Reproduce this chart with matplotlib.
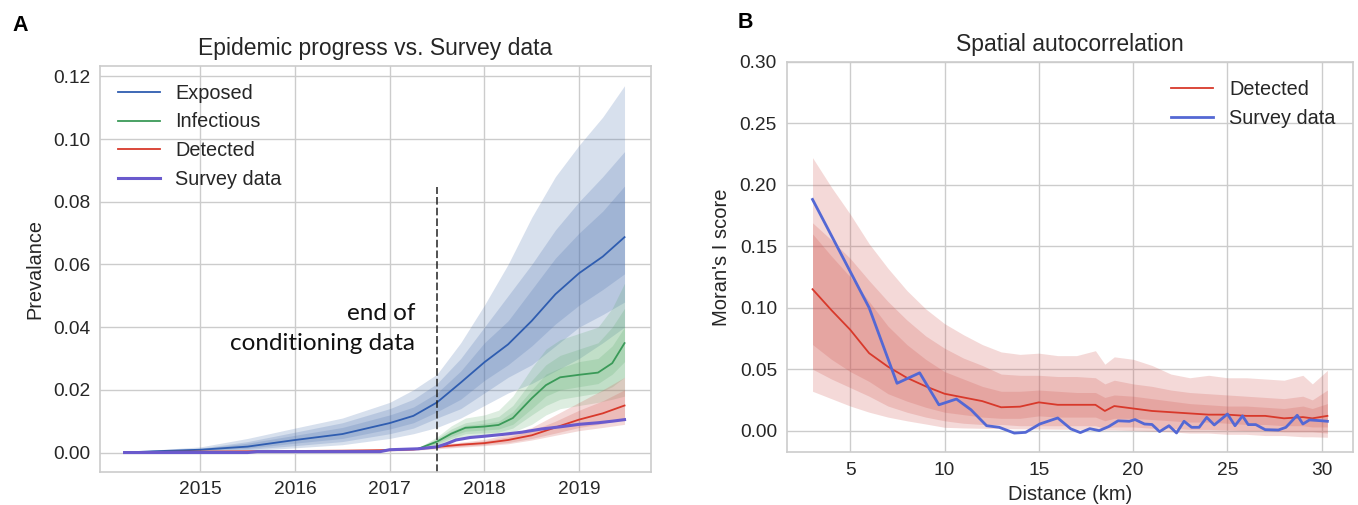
import numpy as np
import matplotlib.pyplot as plt

plt.rcParams["font.family"] = ["Liberation Sans", "DejaVu Sans"]

# ---- Panel A data (year, prevalence) ----
t = [2014.2, 2014.5, 2015.0, 2015.5, 2016.0, 2016.5, 2017.0, 2017.25, 2017.5,
     2017.75, 2018.0, 2018.25, 2018.5, 2018.75, 2019.0, 2019.25, 2019.48]
exp_med = [0, 0.0004, 0.0009, 0.0019, 0.0040, 0.0059, 0.0094, 0.0117, 0.0160,
           0.0223, 0.0288, 0.0345, 0.0420, 0.0505, 0.0572, 0.0625, 0.0687]
exp_hi3 = [0, 0.0008, 0.0018, 0.0045, 0.0078, 0.0110, 0.0160, 0.0200, 0.0250,
           0.0350, 0.0470, 0.0600, 0.0750, 0.0880, 0.0980, 0.1070, 0.1170]
exp_hi2 = [0, 0.0006, 0.0014, 0.0035, 0.0065, 0.0095, 0.0140, 0.0170, 0.0220,
           0.0300, 0.0400, 0.0500, 0.0600, 0.0710, 0.0800, 0.0880, 0.0960]
exp_hi1 = [0, 0.0005, 0.0012, 0.0030, 0.0055, 0.0080, 0.0120, 0.0145, 0.0190,
           0.0260, 0.0350, 0.0420, 0.0520, 0.0620, 0.0700, 0.0770, 0.0850]
exp_lo1 = [0, 0.0003, 0.0007, 0.0014, 0.0030, 0.0045, 0.0075, 0.0095, 0.0130,
           0.0170, 0.0230, 0.0280, 0.0340, 0.0410, 0.0470, 0.0520, 0.0570]
exp_lo2 = [0, 0.0002, 0.0005, 0.0010, 0.0022, 0.0035, 0.0060, 0.0078, 0.0110,
           0.0140, 0.0190, 0.0240, 0.0280, 0.0340, 0.0400, 0.0440, 0.0480]
exp_lo3 = [0, 0.0001, 0.0003, 0.0006, 0.0015, 0.0025, 0.0045, 0.0060, 0.0080,
           0.0110, 0.0150, 0.0190, 0.0220, 0.0260, 0.0300, 0.0350, 0.0400]

det_med = [0, 0.0002, 0.0003, 0.0004, 0.0005, 0.0006, 0.0008, 0.0010, 0.0018,
           0.0025, 0.0030, 0.0040, 0.0055, 0.0080, 0.0105, 0.0125, 0.0150]
det_hi3 = [0, 0.0003, 0.0004, 0.0005, 0.0007, 0.0008, 0.0011, 0.0014, 0.0025,
           0.0033, 0.0042, 0.0058, 0.0080, 0.0120, 0.0160, 0.0200, 0.0240]
det_hi2 = [0, 0.0003, 0.0004, 0.0005, 0.0006, 0.0007, 0.0010, 0.0012, 0.0022,
           0.0030, 0.0037, 0.0050, 0.0070, 0.0100, 0.0135, 0.0165, 0.0200]
det_lo2 = [0, 0.0001, 0.0002, 0.0003, 0.0004, 0.0005, 0.0006, 0.0008, 0.0015,
           0.0020, 0.0025, 0.0032, 0.0045, 0.0062, 0.0080, 0.0092, 0.0110]
det_lo3 = [0, 0.0001, 0.0002, 0.0002, 0.0003, 0.0004, 0.0005, 0.0007, 0.0012,
           0.0017, 0.0022, 0.0028, 0.0040, 0.0055, 0.0070, 0.0080, 0.0090]

t_inf = [2017.3, 2017.5, 2017.65, 2017.8, 2018.0, 2018.15, 2018.3, 2018.5, 2018.65,
         2018.8, 2019.0, 2019.2, 2019.35, 2019.48]
inf_med = [0.0012, 0.0035, 0.0060, 0.0079, 0.0083, 0.0088, 0.0110, 0.0173, 0.0215,
           0.0240, 0.0248, 0.0255, 0.0285, 0.0349]
inf_hi3 = [0.0015, 0.0050, 0.0085, 0.0110, 0.0120, 0.0135, 0.0180, 0.0270, 0.0330,
           0.0360, 0.0380, 0.0400, 0.0460, 0.0540]
inf_hi2 = [0.0014, 0.0045, 0.0075, 0.0095, 0.0105, 0.0115, 0.0150, 0.0230, 0.0280,
           0.0310, 0.0330, 0.0350, 0.0400, 0.0460]
inf_hi1 = [0.0013, 0.0040, 0.0068, 0.0087, 0.0093, 0.0100, 0.0130, 0.0200, 0.0250,
           0.0270, 0.0290, 0.0300, 0.0340, 0.0400]
inf_lo1 = [0.0011, 0.0030, 0.0052, 0.0068, 0.0072, 0.0075, 0.0090, 0.0140, 0.0180,
           0.0200, 0.0210, 0.0220, 0.0250, 0.0290]
inf_lo2 = [0.0010, 0.0025, 0.0045, 0.0060, 0.0063, 0.0065, 0.0078, 0.0120, 0.0150,
           0.0170, 0.0180, 0.0190, 0.0210, 0.0240]
inf_lo3 = [0.0009, 0.0020, 0.0038, 0.0050, 0.0053, 0.0055, 0.0065, 0.0090, 0.0120,
           0.0140, 0.0150, 0.0160, 0.0170, 0.0180]

t_survey = [2014.2, 2015.5, 2015.6, 2016.9, 2017.0, 2017.3, 2017.5, 2017.6, 2017.7, 2017.85,
            2018.0, 2018.2, 2018.4, 2018.6, 2018.8, 2019.0, 2019.2, 2019.35, 2019.48]
survey = [0, 0, 0.0003, 0.0003, 0.0009, 0.0012, 0.0018, 0.0028, 0.0040, 0.0048,
          0.0052, 0.0058, 0.0065, 0.0075, 0.0082, 0.0090, 0.0095, 0.0100, 0.0105]

# ---- Panel B data (distance km, Moran's I) ----
d = [3, 4, 5, 6, 7, 8, 9, 10, 11, 12, 13, 14, 15, 16, 17, 18, 18.5, 19, 20, 21,
     22, 23, 24, 25, 26, 27, 28, 29, 29.5, 30.3]
mor_med = [0.115, 0.098, 0.082, 0.063, 0.052, 0.043, 0.036, 0.030, 0.027, 0.024,
           0.019, 0.0195, 0.023, 0.021, 0.021, 0.021, 0.016, 0.020, 0.018, 0.016,
           0.015, 0.014, 0.013, 0.013, 0.012, 0.012, 0.010, 0.011, 0.010, 0.012]
mor_hi3 = [0.222, 0.198, 0.176, 0.152, 0.132, 0.114, 0.099, 0.087, 0.078, 0.070,
           0.064, 0.062, 0.063, 0.061, 0.061, 0.065, 0.054, 0.060, 0.058, 0.053,
           0.046, 0.043, 0.045, 0.043, 0.043, 0.042, 0.041, 0.045, 0.038, 0.049]
mor_hi2 = [0.169, 0.155, 0.140, 0.122, 0.105, 0.090, 0.077, 0.067, 0.059, 0.053,
           0.046, 0.045, 0.045, 0.044, 0.044, 0.043, 0.038, 0.041, 0.038, 0.036,
           0.033, 0.031, 0.030, 0.029, 0.028, 0.027, 0.026, 0.028, 0.025, 0.033]
mor_hi1 = [0.160, 0.142, 0.125, 0.105, 0.085, 0.070, 0.058, 0.048, 0.042, 0.036,
           0.032, 0.032, 0.033, 0.032, 0.031, 0.031, 0.027, 0.029, 0.028, 0.026,
           0.024, 0.022, 0.021, 0.020, 0.020, 0.019, 0.018, 0.020, 0.018, 0.022]
mor_lo1 = [0.070, 0.058, 0.048, 0.040, 0.030, 0.024, 0.019, 0.015, 0.013, 0.011,
           0.010, 0.010, 0.012, 0.011, 0.011, 0.011, 0.008, 0.010, 0.010, 0.009,
           0.008, 0.007, 0.007, 0.006, 0.005, 0.005, 0.004, 0.004, 0.003, 0.003]
mor_lo2 = [0.050, 0.042, 0.035, 0.028, 0.020, 0.015, 0.011, 0.008, 0.006, 0.005,
           0.005, 0.004, 0.004, 0.004, 0.004, 0.004, 0.002, 0.003, 0.003, 0.002,
           0.002, 0.001, 0.001, 0.0005, 0.0, 0.0, -0.001, -0.001, -0.001, -0.002]
mor_lo3 = [0.032, 0.026, 0.020, 0.015, 0.011, 0.008, 0.0054, 0.0027, 0.0022, 0.0019,
           0.0017, 0.0015, 0.0014, 0.0012, 0.0011, 0.0010, 0.0005, 0.0005, 0.0, -0.0005,
           -0.001, -0.002, -0.002, -0.003, -0.003, -0.004, -0.004, -0.005, -0.005, -0.0054]

d_survey = [3.0, 6.0, 7.48, 8.68, 9.7, 10.63, 11.4, 12.23, 12.9, 13.7, 14.3, 15.05, 16.0,
            16.7, 17.2, 17.7, 18.2, 18.7, 19.2, 19.8, 20.1, 20.6, 21.0, 21.4, 21.9, 22.3,
            22.7, 23.1, 23.5, 23.9, 24.3, 25.0, 25.4, 25.8, 26.1, 26.5, 27.0, 27.7, 28.1,
            28.7, 29.0, 29.35, 30.0, 30.3]
mor_survey = [0.188, 0.100, 0.0385, 0.047, 0.021, 0.0257, 0.017, 0.004, 0.0027, -0.002,
              -0.0014, 0.0054, 0.0103, 0.0014, -0.0016, 0.0016, 0.0, 0.0033, 0.008, 0.0076,
              0.009, 0.0054, 0.005, -0.0008, 0.004, -0.0019, 0.0076, 0.0027, 0.0027, 0.0108,
              0.0046, 0.0135, 0.004, 0.012, 0.0049, 0.0049, 0.0008, 0.0005, 0.0027, 0.0125,
              0.0054, 0.0087, 0.008, 0.0076]

blue = '#4c72b0'
green = '#55a868'
red = '#d0554f'
text_col = '#262626'
grid_col = '#cccccc'
fs = 13.8


def style_axes(ax):
    ax.set_facecolor('white')
    ax.grid(True, color=grid_col, linewidth=1.0)
    ax.set_axisbelow(True)
    for s in ax.spines.values():
        s.set_color(grid_col)
        s.set_linewidth(1.2)
    ax.tick_params(length=0, labelsize=fs, colors=text_col, pad=7)


fig = plt.figure(figsize=(13.58, 5.05), dpi=100)
fig.patch.set_facecolor('white')

# Panel A
ax1 = fig.add_axes([0.0736, 0.066, 0.4056, 0.804])
style_axes(ax1)
for lo, hi in [(exp_lo3, exp_hi3), (exp_lo2, exp_hi2), (exp_lo1, exp_hi1)]:
    ax1.fill_between(t, lo, hi, color=blue, alpha=0.22, linewidth=0)
for lo, hi in [(inf_lo3, inf_hi3), (inf_lo2, inf_hi2), (inf_lo1, inf_hi1)]:
    ax1.fill_between(t_inf, lo, hi, color=green, alpha=0.2, linewidth=0)
for lo, hi in [(det_lo3, det_hi3), (det_lo2, det_hi2)]:
    ax1.fill_between(t, lo, hi, color=red, alpha=0.22, linewidth=0)
ax1.plot(t, exp_med, color='#2f5db0', lw=1.3, label='Exposed')
ax1.plot(t_inf, inf_med, color='#3a9a58', lw=1.3, label='Infectious')
ax1.plot(t, det_med, color='#d8392b', lw=1.3, label='Detected')
ax1.plot(t_survey, survey, color='#6a5acd', lw=2.2, label='Survey data')
ax1.axvline(2017.5, ymin=0, ymax=0.70, color='#222222', lw=1.1, ls=(0, (5, 2)))
ax1.text(2017.27, 0.0445, 'end of', ha='right', va='center', fontsize=17.5,
         family=['Lato', 'DejaVu Sans'], color='#111111')
ax1.text(2017.27, 0.0349, 'conditioning data', ha='right', va='center', fontsize=17.5,
         family=['Lato', 'DejaVu Sans'], color='#111111')
ax1.set_xlim(2013.94, 2019.757)
ax1.set_ylim(-0.0061, 0.1234)
ax1.set_xticks([2015, 2016, 2017, 2018, 2019])
ax1.set_yticks([0, 0.02, 0.04, 0.06, 0.08, 0.10, 0.12])
ax1.set_yticklabels(['0.00', '0.02', '0.04', '0.06', '0.08', '0.10', '0.12'])
ax1.set_ylabel('Prevalance', fontsize=14.3, color=text_col, labelpad=6)
ax1.set_title('Epidemic progress vs. Survey data', fontsize=16.5, color=text_col, pad=8)
leg1 = ax1.legend(loc='upper left', frameon=False, fontsize=14.3, handlelength=2.1,
                  handletextpad=0.8, labelspacing=0.5, borderaxespad=0.5)
for txt in leg1.get_texts():
    txt.set_color(text_col)

# Panel B
ax2 = fig.add_axes([0.5793, 0.1044, 0.4172, 0.7734])
style_axes(ax2)
for lo, hi in [(mor_lo3, mor_hi3), (mor_lo2, mor_hi2), (mor_lo1, mor_hi1)]:
    ax2.fill_between(d, lo, hi, color=red, alpha=0.22, linewidth=0)
ax2.plot(d, mor_med, color='#d8392b', lw=1.3, label='Detected')
ax2.plot(d_survey, mor_survey, color='#5468d4', lw=2.0, label='Survey data')
ax2.set_xlim(1.63, 31.67)
ax2.set_ylim(-0.0176, 0.30)
ax2.set_xticks([5, 10, 15, 20, 25, 30])
ax2.set_yticks([0, 0.05, 0.10, 0.15, 0.20, 0.25, 0.30])
ax2.set_yticklabels(['0.00', '0.05', '0.10', '0.15', '0.20', '0.25', '0.30'])
ax2.set_xlabel('Distance (km)', fontsize=14.5, color=text_col, labelpad=4)
ax2.set_ylabel("Moran's I score", fontsize=14.5, color=text_col, labelpad=6)
ax2.set_title('Spatial autocorrelation', fontsize=16.5, color=text_col, pad=8)
leg2 = ax2.legend(loc='upper right', frameon=False, fontsize=14.3, handlelength=2.1,
                  handletextpad=0.8, labelspacing=0.5, borderaxespad=0.5)
for txt in leg2.get_texts():
    txt.set_color(text_col)

fig.text(0.009, 0.95, 'A', fontsize=15.5, fontweight='bold', color='black', va='center')
fig.text(0.543, 0.955, 'B', fontsize=15.5, fontweight='bold', color='black', va='center')

fig.savefig('out.png', dpi=100, facecolor='white')
